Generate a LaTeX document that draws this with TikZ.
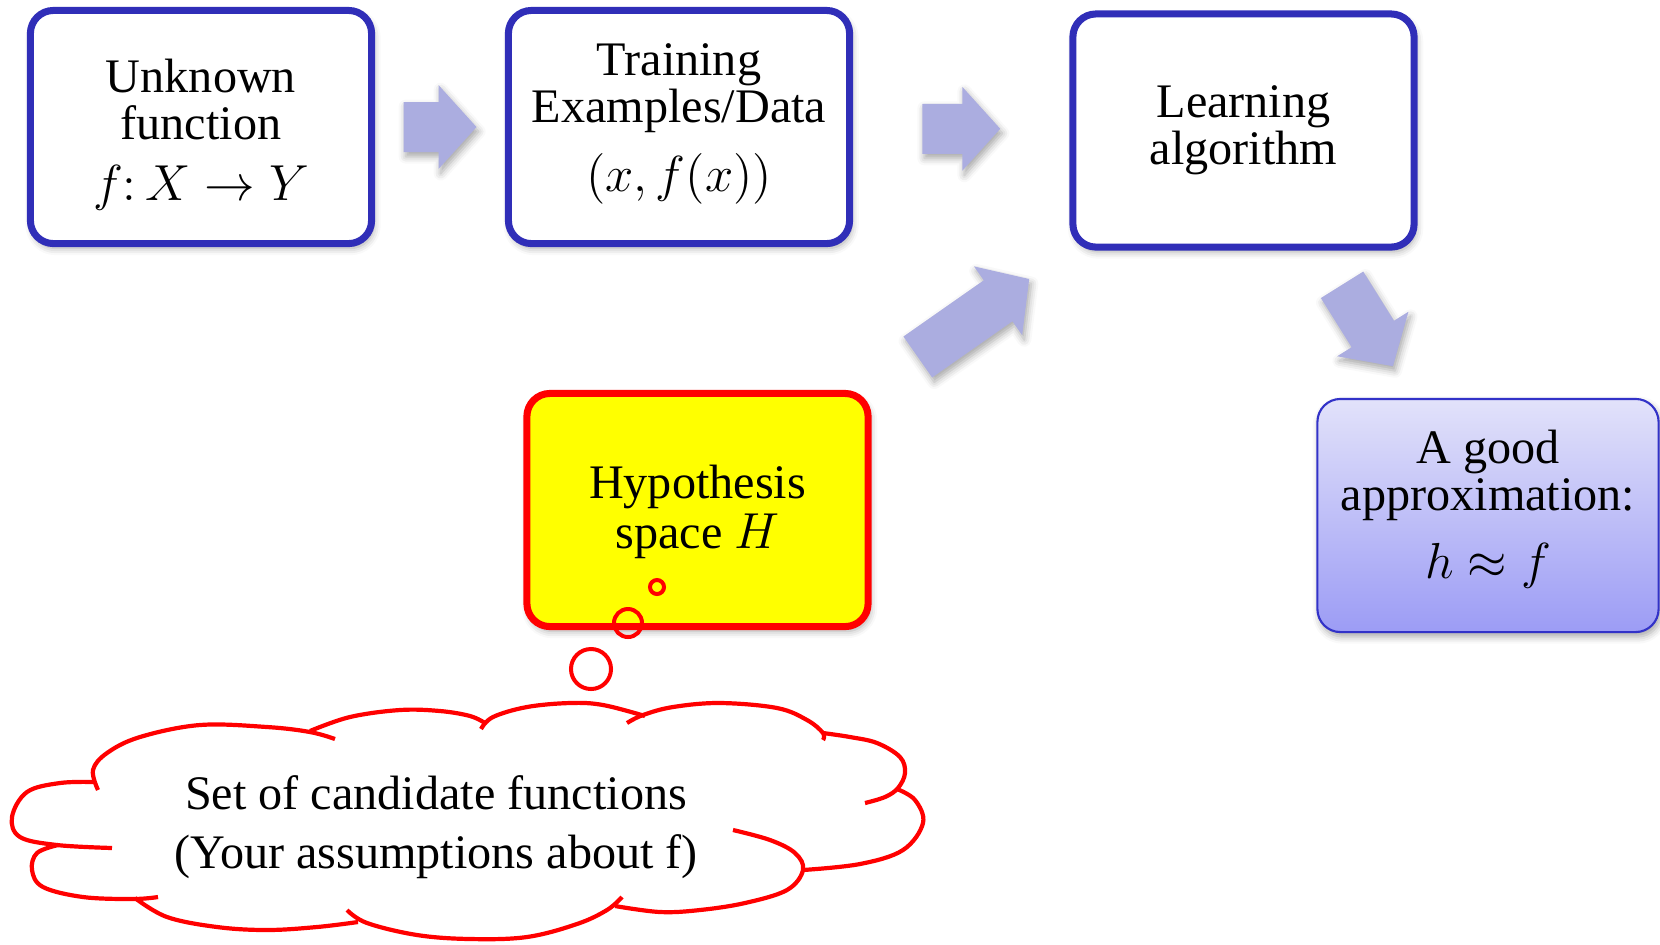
\documentclass[tikz,border=0pt]{standalone}
\usepackage{fontspec}
\setmainfont{Liberation Serif}
\usetikzlibrary{calc,shadows.blur}

\definecolor{boxblue}{RGB}{48,46,184}
\definecolor{arrowfill}{RGB}{171,173,224}
\definecolor{hypred}{RGB}{255,0,0}
\definecolor{hypyellow}{RGB}{255,255,0}
\definecolor{apptop}{RGB}{226,226,250}
\definecolor{appbot}{RGB}{156,156,245}
\definecolor{appborder}{RGB}{50,50,200}

\tikzset{
  txt/.style={font=\fontsize{13.7pt}{13.4pt}\selectfont, align=center, inner sep=0pt},
  softshadow/.style={blur shadow={shadow xshift=0.6pt, shadow yshift=-1.3pt,
      shadow blur radius=2pt, shadow opacity=35}},
  boxbase/.style={rounded corners=2.3mm, minimum width=3.41cm,
      minimum height=2.33cm, inner sep=0pt, softshadow},
  stepbox/.style={boxbase, draw=boxblue, line width=2pt, fill=white},
  hypbox/.style={boxbase, draw=hypred, line width=2pt, fill=hypyellow},
  resultbox/.style={boxbase, draw=appborder, line width=0.6pt,
      top color=apptop, bottom color=appbot},
  bubble/.style={circle, draw=hypred, line width=0.4mm, inner sep=0pt},
  cloudline/.style={draw=hypred, line width=0.42mm},
  cloudtext/.style={font=\fontsize{13.7pt}{16.8pt}\selectfont, align=center},
  fatarrow/.pic={
    \fill[arrowfill, softshadow]
      (-#1/2,-25) -- (#1/2-38,-25) -- (#1/2-38,-42) -- (#1/2,0)
      -- (#1/2-38,42) -- (#1/2-38,25) -- (-#1/2,25) -- cycle;
  }
}

\begin{document}
\begin{tikzpicture}[x=0.01cm, y=-0.01cm]
  \useasboundingbox (0,0) rectangle (1660,944);

  % the three stages of the pipeline
  \node[stepbox] (unk) at (201,127) {};
  \node[stepbox] (train) at (679,127) {};
  \node[stepbox] (learn) at (1243.5,130.5) {};

  % hypothesis space and the resulting approximation
  \node[hypbox] (hyp) at (697.5,510) {};
  \node[resultbox] (approx) at (1488,515.5) {};

  % box captions
  \node[txt] (unkt) at ($(unk.center)+(0,8)$)
    {Unknown\\function\\[4pt]$f\colon X\rightarrow Y$};
  \node[txt] (traint) at ($(train.center)+(0,-3)$)
    {Training\\Examples/Data\\[5pt]$(x,f(x))$};
  \node[txt] (learnt) at (learn.center) {Learning\\algorithm};
  \node[txt] (hypt) at ($(hyp.center)+(0,2)$) {Hypothesis\\[1pt]space $H$};
  \node[txt] (approxt) at ($(approx.center)+(0,-6)$)
    {A good\\approximation:\\[6pt]$h\approx f$};

  % block arrows between the stages
  \pic at ($(unk.east)!0.5!(train.west)$) {fatarrow=73};
  \pic at ($(train.east)!0.5!(learn.west)$) {fatarrow=78};
  \pic[rotate=35] at (973.5,318) {fatarrow=136};
  \pic[rotate=-58] at (1367.5,325.5) {fatarrow=96};

  % thought bubbles rising from the cloud
  \node[bubble, minimum size=1.4mm] (b1) at (657,587) {};
  \node[bubble, minimum size=2.8mm] (b2) at (628,623) {};
  \node[bubble, minimum size=4.0mm] (b3) at (591,669) {};

  % cloud outline, one lobe at a time
  \begin{scope}[cloudline]
    \draw plot[smooth, tension=0.6] coordinates
      {(95,782) (60,783) (27,792) (12,817) (20,837) (57,845) (112,848)};
    \draw plot[smooth, tension=0.6] coordinates
      {(58,845) (37,853) (32,870) (43,887) (83,897) (133,899) (158,897)};
    \draw plot[smooth, tension=0.6] coordinates
      {(135,898) (167,917) (217,927) (267,930) (317,927) (358,922)};
    \draw plot[smooth, tension=0.6] coordinates
      {(347,910) (367,923) (417,935) (470,939) (527,937) (577,924) (607,910) (622,897)};
    \draw plot[smooth, tension=0.6] coordinates
      {(615,906) (660,912) (700,910) (745,903) (787,890) (803,870) (795,853) (770,840) (733,830)};
    \draw plot[smooth, tension=0.6] coordinates
      {(897,789) (915,800) (923,823) (903,850) (860,864) (803,870)};
    \draw plot[smooth, tension=0.6] coordinates
      {(823,733) (850,737) (877,743) (900,757) (905,773) (898,788) (885,797) (865,803)};
    \draw plot[smooth, tension=0.6] coordinates
      {(627,723) (643,715) (673,707) (720,703) (777,708) (807,720) (823,733) (823,740)};
    \draw plot[smooth, tension=0.6] coordinates
      {(645,716) (603,705) (570,703) (527,707) (493,717) (481,729)};
    \draw plot[smooth, tension=0.6] coordinates
      {(310,731) (350,717) (400,710) (440,711) (470,716) (485,723)};
    \draw plot[smooth, tension=0.6] coordinates
      {(98,790) (93,770) (107,753) (140,737) (200,725) (267,727) (310,732) (335,739)};
  \end{scope}

  \node[cloudtext] (cands) at (436,827)
    {Set of candidate functions\\(Your assumptions about f)};
\end{tikzpicture}
\end{document}
